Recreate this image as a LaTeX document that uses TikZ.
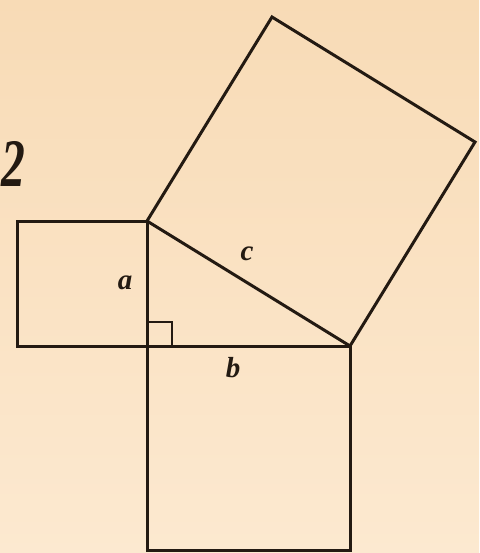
\documentclass[tikz,border=0pt]{standalone}
\usepackage{fontspec}
\setmainfont{Liberation Serif}
\begin{document}
\begin{tikzpicture}[x=1pt,y=-1pt,
  edge/.style={line width=3pt,draw=ink,line join=miter},
  thin/.style={line width=1.4pt,draw=ink},
  lbl/.style={font=\bfseries\itshape\fontsize{29}{29}\selectfont,text=ink,inner sep=0pt}]
\definecolor{ink}{HTML}{231A12}
\definecolor{bgtop}{HTML}{F8DBB6}
\definecolor{bgbot}{HTML}{FCE9D0}
\useasboundingbox (0,0) rectangle (479,553);
\shade[top color=bgtop,bottom color=bgbot] (0,0) rectangle (479,553);
% vertices
\coordinate (A) at (147,221);
\coordinate (C) at (147,346);
\coordinate (B) at (350,346);
\coordinate (P) at (272,17);
\coordinate (Q) at (475,142);
\coordinate (L1) at (17,221);
\coordinate (L2) at (17,346);
\coordinate (D1) at (147,550);
\coordinate (D2) at (350,550);
\coordinate (R1) at (172,346);
\coordinate (R2) at (172,322);
\coordinate (R3) at (147,322);
% squares
\draw[edge] (A) -- (L1) -- (L2) -- (C) -- cycle;
\draw[edge] (C) -- (D1) -- (D2) -- (B) -- cycle;
\draw[edge] (A) -- (P) -- (Q) -- (B) -- cycle;
\draw[thin] (R3) -- (R2) -- (R1);
% labels
\node[lbl] (la) at (125,283) {a};
\node[lbl] (lb) at (233,368) {b};
\node[lbl] (lc) at (247,254) {c};
\node[font=\bfseries\itshape\fontsize{68}{68}\selectfont,text=ink,inner sep=0pt,anchor=base west] (two) at (1,186) {\scalebox{0.7}[1]{2}};
\end{tikzpicture}
\end{document}
